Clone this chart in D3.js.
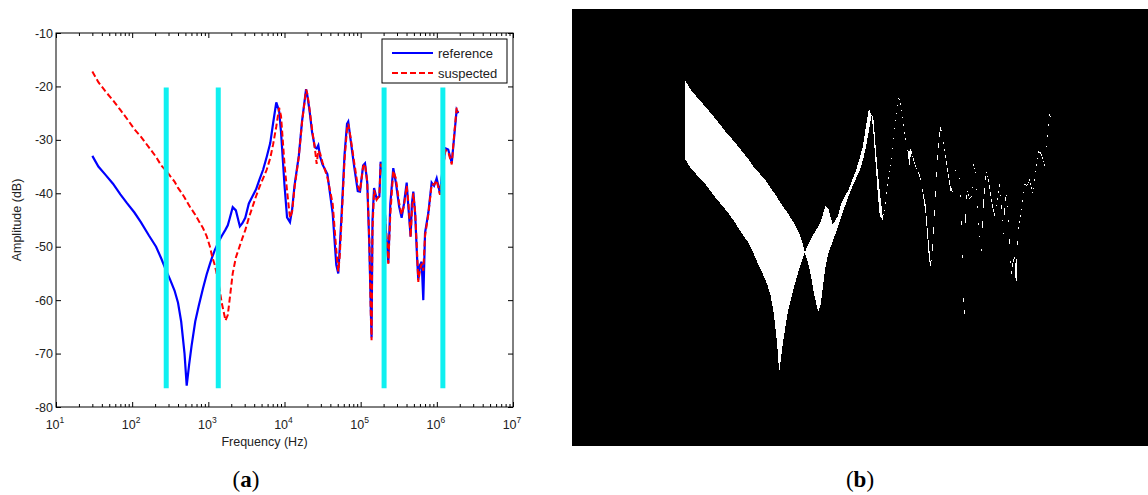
<!DOCTYPE html>
<html>
<head>
<meta charset="utf-8">
<script src="https://cdn.jsdelivr.net/npm/d3@7"></script>
<style>
body { margin: 0; background: #fff; }
text { font-family: "Liberation Sans", Arial, sans-serif; fill: #222; }
</style>
</head>
<body>
<svg id="fig" width="1148" height="495"></svg>
<script>
// frequency grid (Hz) shared by both curves
const freq = [30, 36, 45, 56, 70, 85, 107, 130, 166, 206, 241, 280, 316, 360, 400, 440, 487, 520, 560, 603,
  673, 750, 850, 950, 1050, 1120, 1220, 1350, 1500, 1680, 1800, 1900, 2090, 2300, 2594, 2800, 3055, 3404, 3788, 4221,
  4700, 5236, 5836, 6501, 7100, 7800, 8500, 9000, 10000, 10800, 11800, 12600, 13550, 15410, 17000, 19200, 20000, 21300, 23000, 25060,
  26440, 27800, 29450, 31500, 36560, 42950, 47850, 50800, 53000, 56250, 61400, 66200, 68700, 73800, 82200, 91600, 98000, 107700, 114000, 122000,
  130000, 136000, 139000, 143000, 150000, 162000, 176000, 183000, 195000, 212000, 231000, 245000, 268000, 290000, 320000, 345000, 370000, 402000, 425000, 453000,
  470000, 491000, 520000, 550000, 571000, 600000, 632000, 664000, 700000, 773000, 855000, 920000, 995000, 1100000, 1180000, 1300000, 1410000, 1570000, 1700000, 1820000,
  1910000];

// amplitude of the reference curve (dB)
const refDb = [-33.0, -35.0, -36.6, -38.2, -40.2, -41.8, -43.6, -45.4, -47.9, -50.0, -52.2, -54.5, -56.2, -58.2, -60.5, -64.0, -70.0, -76.0, -72.0, -68.5,
  -64.0, -61.0, -57.8, -55.2, -53.2, -52.0, -50.6, -49.2, -48.0, -46.8, -46.0, -44.8, -42.6, -43.2, -46.2, -45.6, -44.6, -41.9, -40.6, -39.3,
  -37.4, -35.6, -33.2, -30.6, -26.8, -23.0, -24.6, -28.5, -38.5, -44.5, -45.4, -43.0, -38.5, -33.0, -26.5, -20.5, -21.8, -24.5, -28.5, -31.4,
  -31.6, -31.0, -33.2, -34.6, -36.4, -43.8, -53.4, -55.0, -50.5, -43.8, -32.8, -27.0, -26.6, -30.0, -35.0, -39.6, -39.7, -34.8, -34.4, -38.0,
  -50.0, -62.0, -67.0, -45.0, -39.0, -41.0, -40.6, -34.1, -36.0, -46.0, -53.0, -42.0, -35.3, -38.0, -42.5, -44.6, -42.0, -38.0, -43.0, -48.1,
  -42.0, -39.7, -44.0, -52.0, -56.2, -53.5, -52.8, -60.0, -47.4, -43.7, -38.0, -38.6, -37.2, -40.0, -36.0, -31.6, -31.8, -34.3, -29.0, -24.4,
  -25.0];

// amplitude of the suspected curve (dB)
const susDb = [-17.2, -19.2, -21.0, -22.6, -24.4, -26.0, -28.0, -29.4, -31.4, -33.2, -34.8, -35.8, -36.8, -37.8, -39.0, -39.8, -40.8, -41.5, -42.3, -43.0,
  -44.0, -45.2, -46.5, -48.0, -50.0, -51.8, -53.5, -56.5, -60.5, -63.8, -62.8, -60.0, -55.0, -52.0, -49.8, -48.4, -46.9, -44.6, -42.6, -40.6,
  -38.8, -37.2, -35.6, -33.4, -30.8, -27.5, -24.0, -25.5, -34.5, -39.5, -44.6, -43.4, -38.9, -33.2, -26.7, -20.6, -21.4, -24.2, -28.0, -31.6,
  -34.5, -32.0, -32.6, -34.2, -37.0, -42.0, -50.6, -54.6, -52.0, -45.0, -33.8, -28.0, -27.0, -29.6, -34.2, -38.6, -39.6, -35.0, -34.5, -37.8,
  -49.0, -63.0, -67.5, -47.0, -39.4, -41.2, -40.4, -34.5, -35.8, -45.5, -53.2, -44.0, -35.8, -37.2, -41.8, -44.0, -42.4, -38.6, -42.0, -48.2,
  -43.5, -40.0, -43.6, -51.0, -56.6, -54.4, -53.2, -54.5, -48.0, -44.0, -38.3, -38.4, -37.6, -40.3, -36.2, -31.9, -32.2, -34.6, -28.6, -24.0,
  -24.8];

// cyan marker bars
const bandFreq = [280, 1350, 203000, 1200000];
const bandDb = [-20.2, -76.5];

const yTicks = [-80, -70, -60, -50, -40, -30, -20, -10];
const xExp = [1, 2, 3, 4, 5, 6, 7];
const seriesNames = ["reference", "suspected"];

const svg = d3.select("#fig");
const A = {left: 56, right: 513, top: 33, bottom: 407};

const x = d3.scaleLog().domain([1e1, 1e7]).range([A.left, A.right]);
const y = d3.scaleLinear().domain([-80, -10]).range([A.bottom, A.top]);

let major = xExp.map(e => Math.pow(10, e));
let minor = [];
xExp.slice(0, -1).forEach(e => {
  for (let k = 2; k < 10; k++) minor.push(k * Math.pow(10, e));
});

function tidy(g) {
  g.select(".domain").remove();
  g.selectAll("line").attr("stroke", "#000");
}

// ticks (inside, on all four sides)
svg.append("g").attr("transform", `translate(0,${A.bottom})`)
  .call(d3.axisBottom(x).tickValues(major).tickSize(-5).tickFormat("")).call(tidy);
svg.append("g").attr("transform", `translate(0,${A.bottom})`)
  .call(d3.axisBottom(x).tickValues(minor).tickSize(-3).tickFormat("")).call(tidy);
svg.append("g").attr("transform", `translate(0,${A.top})`)
  .call(d3.axisTop(x).tickValues(major).tickSize(-5).tickFormat("")).call(tidy);
svg.append("g").attr("transform", `translate(0,${A.top})`)
  .call(d3.axisTop(x).tickValues(minor).tickSize(-3).tickFormat("")).call(tidy);

let yl = svg.append("g").attr("transform", `translate(${A.left},0)`)
  .call(d3.axisLeft(y).tickValues(yTicks).tickSizeInner(-5).tickSizeOuter(0).tickPadding(3).tickFormat(d => String(d)))
  .call(tidy);
yl.selectAll("text").style("font-size", "12.5px").attr("fill", "#222").attr("font-family", null);
svg.append("g").attr("transform", `translate(${A.right},0)`)
  .call(d3.axisRight(y).tickValues(yTicks).tickSize(-5).tickFormat("")).call(tidy);

// x tick labels 10^n
let xl = svg.append("g").selectAll("text").data(xExp).enter()
  .append("text")
  .attr("x", d => x(Math.pow(10, d)) - 1)
  .attr("y", A.bottom + 22)
  .style("text-anchor", "middle")
  .style("font-size", "12.5px");
xl.append("tspan").text("10");
xl.append("tspan").attr("dy", -6).style("font-size", "8.5px").text(d => d);

// axis titles
svg.append("text")
  .attr("x", (A.left + A.right) / 2 - 20).attr("y", 446)
  .style("text-anchor", "middle").style("font-size", "12.5px")
  .text("Frequency (Hz)");
svg.append("text")
  .attr("transform", `translate(21,${(A.top + A.bottom) / 2}) rotate(-90)`)
  .style("text-anchor", "middle").style("font-size", "12.5px")
  .text("Amplitude (dB)");

// curves
let curve = d3.line().x((d, i) => x(freq[i])).y(d => y(d));
svg.append("path").datum(refDb)
  .attr("d", curve)
  .attr("fill", "none").attr("stroke", "#0000ff").attr("stroke-width", 2.2);
svg.append("path").datum(susDb)
  .attr("d", curve)
  .attr("fill", "none").attr("stroke", "#ff0000").attr("stroke-width", 2)
  .attr("stroke-dasharray", "6,3");

// cyan bars on top
svg.append("g").selectAll("line").data(bandFreq).enter()
  .append("line")
  .attr("x1", d => x(d)).attr("x2", d => x(d))
  .attr("y1", y(bandDb[0])).attr("y2", y(bandDb[1]))
  .attr("stroke", "#10f0f0").attr("stroke-width", 5);

// frame
svg.append("rect")
  .attr("x", A.left).attr("y", A.top)
  .attr("width", A.right - A.left).attr("height", A.bottom - A.top)
  .attr("fill", "none").attr("stroke", "#000").attr("stroke-width", 1);

// legend
let leg = svg.append("g");
leg.append("rect").attr("x", 382).attr("y", 39).attr("width", 125).attr("height", 44)
  .attr("fill", "#fff").attr("stroke", "#000");
let legRows = leg.selectAll("g").data(seriesNames).enter().append("g")
  .attr("transform", (d, i) => `translate(0,${53 + i * 20})`);
legRows.append("line").attr("x1", 392).attr("x2", 433)
  .attr("stroke", (d, i) => i ? "#ff0000" : "#0000ff").attr("stroke-width", 2)
  .attr("stroke-dasharray", (d, i) => i ? "6,3" : null);
legRows.append("text").attr("x", 438).attr("y", 4.5).style("font-size", "13px").text(d => d);

// panel (b): difference mask
const B = {left: 572, right: 1148, top: 9, bottom: 446};
const xb = d3.scaleLog().domain([1, Math.pow(10, 7.55)]).range([B.left, B.right]);
const yb = d3.scaleLinear().domain([-3, -90.8]).range([B.top, B.bottom]);
svg.append("rect").attr("x", B.left).attr("y", B.top)
  .attr("width", B.right - B.left).attr("height", B.bottom - B.top).attr("fill", "#000");
let diff = d3.area()
  .x((d, i) => xb(freq[i]))
  .y0((d, i) => yb(refDb[i]))
  .y1((d, i) => yb(susDb[i]));
svg.append("path").datum(refDb).attr("d", diff).attr("fill", "#fff")
  .attr("shape-rendering", "crispEdges");

// panel captions
[["a", 246], ["b", 860]].forEach(p => {
  let t = svg.append("text").attr("x", p[1]).attr("y", 487)
    .style("text-anchor", "middle").style("font-family", "'Liberation Serif', serif")
    .style("font-size", "23px").style("fill", "#000");
  t.append("tspan").text("(");
  t.append("tspan").style("font-weight", "bold").text(p[0]);
  t.append("tspan").text(")");
});
</script>
</body>
</html>
